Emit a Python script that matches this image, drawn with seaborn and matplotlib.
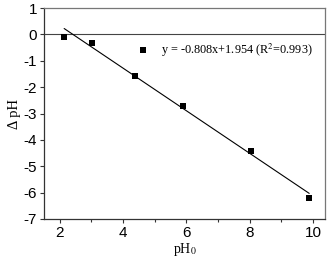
import matplotlib
matplotlib.use("Agg")
import matplotlib.pyplot as plt
import seaborn as sns
from matplotlib.ticker import MultipleLocator

# measured data
ph0 = [2.14, 3.03, 4.39, 5.89, 8.04, 9.87]
delta_ph = [-0.10, -0.31, -1.56, -2.72, -4.44, -6.21]
slope = -0.808
intercept = 1.954
fit_range = [2.14, 9.88]
x_ticks = [2, 4, 6, 8, 10]
y_ticks = [1, 0, -1, -2, -3, -4, -5, -6, -7]

sns.set_style("ticks")
plt.rcParams['font.family'] = ['Liberation Sans', 'DejaVu Sans']
plt.rcParams['axes.unicode_minus'] = False
plt.rcParams['mathtext.fontset'] = 'stix'

serif = ['Liberation Serif', 'DejaVu Serif']

fig = plt.figure(figsize=(3.3, 2.61), dpi=100)
ax = fig.add_axes([0.133, 0.161, 0.852, 0.808])

sns.scatterplot(x=ph0, y=delta_ph, marker='s', color='black', s=18,
                edgecolor='black', linewidth=0, ax=ax, legend=False, zorder=3)
fit_y = [slope * v + intercept for v in fit_range]
sns.lineplot(x=fit_range, y=fit_y, color='black', linewidth=0.8, ax=ax)
ax.axhline(0, color='#444444', linewidth=0.8, zorder=1)

# legend entry drawn by hand
ax.scatter([4.62], [-0.6], marker='s', color='black', s=18, linewidth=0)
ax.text(5.2, -0.6, 'y = -0.808x+1.954 (R$^2$=0.993)', va='center', ha='left',
        fontsize=8.8, family=serif, color='black')

ax.set_xlim(1.5, 10.38)
ax.set_ylim(-7, 1)
ax.set_xticks(x_ticks)
ax.set_yticks(y_ticks)
ax.xaxis.set_minor_locator(MultipleLocator(1))
ax.tick_params(axis='both', which='major', direction='out', length=3, width=0.8,
               labelsize=11, pad=2, color='#333333', labelcolor='black')
ax.tick_params(axis='x', which='minor', direction='out', length=2, width=0.8, color='#333333')

ax.set_xlabel('pH$_0$', fontsize=10, family=serif, labelpad=1, color='black')
ax.set_ylabel('Δ pH', fontsize=10.5, family=serif, labelpad=2, color='black')

for side in ['left', 'bottom']:
    ax.spines[side].set_color('#333333')
    ax.spines[side].set_linewidth(0.9)
for side in ['top', 'right']:
    ax.spines[side].set_visible(True)
    ax.spines[side].set_color('#777777')
    ax.spines[side].set_linewidth(0.9)

fig.savefig('out.png', dpi=100)
